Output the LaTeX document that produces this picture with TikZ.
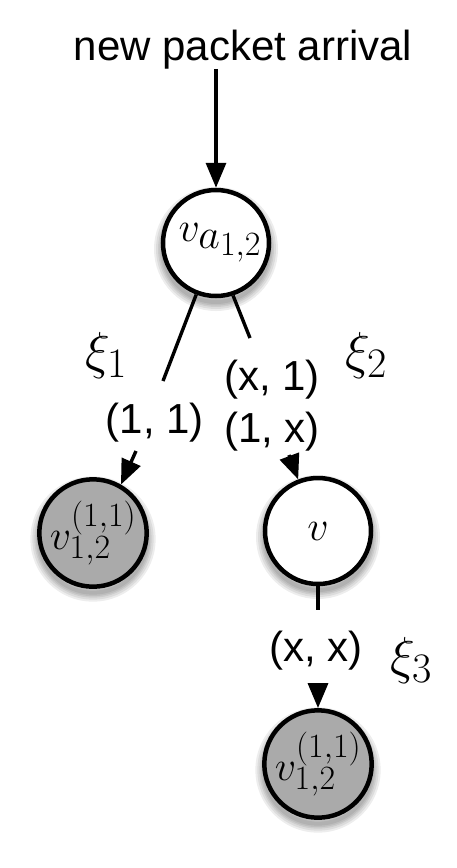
\RequirePackage{fix-cm}
\documentclass[tikz,border=0pt]{standalone}
\usepackage{fontspec}
\newfontfamily\lsans{Liberation Sans}
\usetikzlibrary{arrows.meta}
\DeclareMathSizes{42}{42}{34}{26}
\DeclareMathSizes{52}{52}{42}{32}
\definecolor{nodegray}{RGB}{170,170,170}
\begin{document}
\begin{tikzpicture}[x=1pt,y=-1pt,
  shd/.style={preaction={draw=black, line width=#1, draw opacity=0.07, transform canvas={yshift=-6pt}}},
  st/.style={circle, draw, line width=4.5pt, minimum size=106pt, inner sep=0pt, fill=white,
    font=\fontsize{42}{44}\selectfont,
    shd=18pt, shd=14pt, shd=10pt, shd=7pt, shd=4pt},
  gr/.style={st, fill=nodegray},
  conn/.style={line width=3.4pt},
  arr/.style={conn, -{Triangle[length=25pt,width=20pt]}},
  lab/.style={font=\lsans\fontsize{42}{48}\selectfont, inner sep=0pt},
  xil/.style={font=\fontsize{52}{56}\selectfont, inner sep=0pt}]
\useasboundingbox (0,0) rectangle (457,868);
\node[lab, anchor=base] (title) at (243,60) {new packet arrival};
\node[st] (top) at (216,243) {\hspace{8pt}$v_{\textstyle a_{1,2}}$};
\node[gr] (c1) at (93,533) {$v_{1,2}^{(1,1)}$};
\node[st] (v) at (318,531) {$v$};
\node[gr] (c3) at (318,764) {$v_{1,2}^{(1,1)}$};
\coordinate (g1a) at (163,381);
\coordinate (g1b) at (136,451);
\coordinate (g2a) at (250,338);
\coordinate (g2b) at (289,455);
\coordinate (g3a) at (318,610);
\coordinate (g3b) at (318,683);
\draw[arr] (title.south -| top.north) -- (top.north);
\draw[conn] (top.-111) -- (g1a);
\draw[arr] (g1b) -- (c1.60);
\draw[conn] (top.-72) -- (g2a);
\draw[arr] (g2b) -- (v.111);
\draw[conn] (v.south) -- (g3a);
\draw[arr] (g3b) -- (c3.north);
\node[xil] (xi1) at (106,355) {$\xi_1$};
\node[xil] (xi2) at (366,355) {$\xi_2$};
\node[xil] (xi3) at (411,660) {$\xi_3$};
\node[lab] (l11) at (155,423) {(1, 1)};
\node[lab] (l2a) at (272,380) {(x, 1)};
\node[lab] (l2b) at (272,432) {(1, x)};
\node[lab] (l3) at (316,651) {(x, x)};
\end{tikzpicture}
\end{document}
